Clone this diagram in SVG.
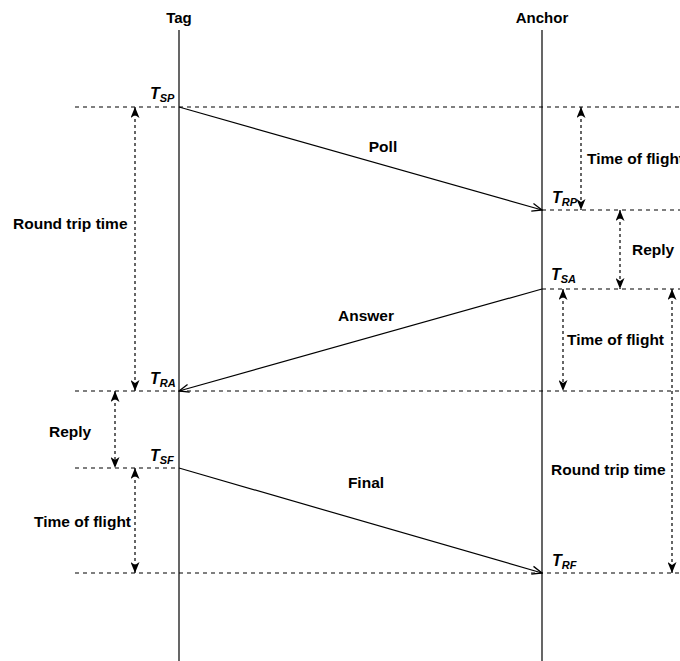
<svg xmlns="http://www.w3.org/2000/svg" width="680" height="661" viewBox="0 0 680 661">
<style>
text{font-family:"Liberation Sans",Arial,sans-serif;font-weight:bold;fill:#000}
.lbl{font-size:15.5px}
.hd{font-size:15px;text-anchor:middle}
.tl{font-size:16px;font-style:italic}
.sub{font-size:11px}
.life{stroke:#000;stroke-width:1.2;fill:none}
.dash{stroke:#000;stroke-width:1.1;stroke-dasharray:4 4;fill:none}
.msg{stroke:#000;stroke-width:1.2;fill:none;marker-end:url(#open)}
.dar{stroke:#000;stroke-width:1.2;stroke-dasharray:3 3;fill:none;marker-start:url(#cls);marker-end:url(#cls)}
</style>
<defs>
<marker id="open" viewBox="0 0 12 10" refX="11" refY="5" markerWidth="12" markerHeight="10" markerUnits="userSpaceOnUse" orient="auto">
<path d="M1,1 L11,5 L1,9" fill="none" stroke="#000" stroke-width="1.3"/>
</marker>
<marker id="cls" viewBox="0 0 11 9" refX="11" refY="4.5" markerWidth="11" markerHeight="9" markerUnits="userSpaceOnUse" orient="auto-start-reverse">
<path d="M0,0 L11,4.5 L0,9 L3,4.5 Z" fill="#000"/>
</marker>
</defs>

<g id="tag">
<text class="hd" x="179" y="23">Tag</text>
<line class="life" x1="179" y1="30" x2="179" y2="661"/>
</g>
<g id="anchor">
<text class="hd" x="542" y="23">Anchor</text>
<line class="life" x1="542" y1="30" x2="542" y2="661"/>
</g>

<g id="timelines">
<line class="dash" x1="75" y1="107" x2="680" y2="107"/>
<line class="dash" x1="542" y1="210" x2="680" y2="210"/>
<line class="dash" x1="542" y1="289" x2="680" y2="289"/>
<line class="dash" x1="75" y1="391" x2="680" y2="391"/>
<line class="dash" x1="75" y1="468" x2="179" y2="468"/>
<line class="dash" x1="75" y1="573" x2="680" y2="573"/>
</g>

<g id="timestamps">
<text class="tl" x="150" y="99">T<tspan class="sub" dy="2.5">SP</tspan></text>
<text class="tl" x="552" y="203">T<tspan class="sub" dy="2.5">RP</tspan></text>
<text class="tl" x="551" y="280">T<tspan class="sub" dy="2.5">SA</tspan></text>
<text class="tl" x="150" y="384">T<tspan class="sub" dy="2.5">RA</tspan></text>
<text class="tl" x="150" y="461">T<tspan class="sub" dy="2.5">SF</tspan></text>
<text class="tl" x="552" y="566">T<tspan class="sub" dy="2.5">RF</tspan></text>
</g>

<g id="connectors">
<line class="msg" x1="179" y1="107" x2="542" y2="210"/>
<line class="msg" x1="542" y1="289" x2="179" y2="391"/>
<line class="msg" x1="179" y1="468" x2="542" y2="573"/>
<line class="dar" x1="135" y1="107" x2="135" y2="391"/>
<line class="dar" x1="581" y1="107" x2="581" y2="210"/>
<line class="dar" x1="620" y1="210" x2="620" y2="289"/>
<line class="dar" x1="563" y1="289" x2="563" y2="391"/>
<line class="dar" x1="672" y1="289" x2="672" y2="573"/>
<line class="dar" x1="115" y1="391" x2="115" y2="468"/>
<line class="dar" x1="135" y1="468" x2="135" y2="573"/>
</g>

<g id="labels">
<text class="lbl" x="383" y="152" text-anchor="middle">Poll</text>
<text class="lbl" x="366" y="321" text-anchor="middle">Answer</text>
<text class="lbl" x="366" y="488" text-anchor="middle">Final</text>
<text class="lbl" x="13" y="229">Round trip time</text>
<text class="lbl" x="587" y="164">Time of flight</text>
<text class="lbl" x="632" y="255">Reply</text>
<text class="lbl" x="567" y="345">Time of flight</text>
<text class="lbl" x="551" y="475">Round trip time</text>
<text class="lbl" x="49" y="437">Reply</text>
<text class="lbl" x="34" y="527">Time of flight</text>
</g>
</svg>
